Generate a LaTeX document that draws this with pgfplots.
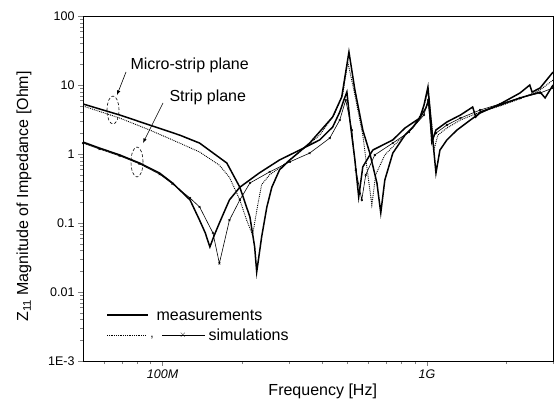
\documentclass[border=0pt]{standalone}
\usepackage{fontspec}
\setmainfont{Liberation Sans}
\usepackage{pgfplots}
\pgfplotsset{compat=1.18}
\begin{document}
\begin{tikzpicture}
\useasboundingbox (-83pt,-47pt) rectangle (473pt,361pt);
\begin{axis}[
  at={(0pt,0pt)}, anchor=south west,
  scale only axis, width=470pt, height=345pt,
  xmode=log, ymode=log,
  xmin=5e7, xmax=3e9, ymin=1e-3, ymax=100,
  axis line style={line width=1pt},
  tick align=outside, major tick length=5pt, minor tick length=3pt,
  xtick pos=bottom, ytick pos=left,
  xtick={1e8,1e9}, xticklabels={\itshape 100M, \itshape 1G},
  minor xtick={6e7,7e7,8e7,9e7,2e8,3e8,4e8,5e8,6e8,7e8,8e8,9e8,2e9,3e9},
  ytick={1e-3,1e-2,1e-1,1,10,100},
  yticklabels={1E-3,0.01,0.1,1,10,100},
  minor ytick={2e-3,3e-3,4e-3,5e-3,6e-3,7e-3,8e-3,9e-3,
    2e-2,3e-2,4e-2,5e-2,6e-2,7e-2,8e-2,9e-2,
    0.2,0.3,0.4,0.5,0.6,0.7,0.8,0.9,2,3,4,5,6,7,8,9,
    20,30,40,50,60,70,80,90},
  tick label style={font=\fontsize{12.5}{14}\selectfont},
  xlabel={Frequency [Hz]},
  ylabel={Z\textsubscript{11} Magnitude of Impedance [Ohm]},
  label style={font=\fontsize{16}{18}\selectfont},
  xlabel style={at={(rel axis cs:0.51,0)}, anchor=center, yshift=-30pt},
  ylabel style={at={([xshift=-59pt]rel axis cs:0,0.477)}, anchor=center},
]
% micro-strip plane, measurement
\addplot[black, line width=1.5pt] coordinates {
(5.0e7,5.31) (5.77e7,4.5) (6.88e7,3.68) (8.93e7,2.63) (1.16e8,1.88) (1.38e8,1.44)
(1.75e8,0.74) (1.96e8,0.33) (2.14e8,0.122) (2.23e8,0.045) (2.27e8,0.0195)
(2.37e8,0.063) (2.48e8,0.171) (2.59e8,0.33) (2.77e8,0.59) (3.03e8,0.82)
(3.60e8,1.44) (4.40e8,3.44) (4.76e8,6.70) (5.07e8,30.1) (5.34e8,8.47)
(5.72e8,2.23) (6.08e8,1.03) (6.47e8,0.38) (6.69e8,0.140) (6.93e8,0.42)
(7.43e8,1.03) (8.26e8,1.88) (8.85e8,2.46) (9.40e8,3.32) (9.75e8,5.13)
(1.009e9,9.35) (1.044e9,2.23) (1.082e9,0.53) (1.120e9,1.14) (1.19e9,1.60)
(1.30e9,2.23) (1.46e9,3.11) (1.59e9,3.93) (1.89e9,5.3) (2.25e9,7.66)
(2.45e9,10.0) (2.50e9,7.9) (2.68e9,9.05) (3.0e9,15.4)};
% strip plane, measurement
\addplot[black, line width=1.5pt] coordinates {
(5.0e7,1.49) (5.77e7,1.22) (6.88e7,0.97) (8.18e7,0.74) (9.74e7,0.53) (1.09e8,0.38)
(1.27e8,0.216) (1.38e8,0.110) (1.45e8,0.072) (1.51e8,0.045) (1.57e8,0.067)
(1.64e8,0.100) (1.79e8,0.216) (1.96e8,0.33) (2.32e8,0.53) (2.77e8,0.82)
(3.30e8,1.14) (3.93e8,1.60) (4.40e8,2.46) (4.68e8,4.06) (4.85e8,6.06)
(4.98e8,7.92) (5.11e8,3.11) (5.34e8,0.82) (5.52e8,0.238) (5.72e8,0.65)
(6.24e8,1.14) (7.43e8,1.60) (8.26e8,2.38) (9.40e8,3.32) (9.91e8,4.64)
(1.017e9,6.06) (1.044e9,1.49) (1.082e9,2.23) (1.19e9,2.91) (1.34e9,3.68)
(1.49e9,4.8) (1.53e9,3.44) (1.59e9,4.06) (1.89e9,5.13) (2.25e9,6.5)
(2.68e9,7.9) (2.80e9,6.5) (3.0e9,10.0)};
% micro-strip plane, simulation
\addplot[black, densely dotted, line width=0.9pt] coordinates {
(5.0e7,4.96) (6.88e7,3.32) (8.93e7,2.23) (1.16e8,1.44) (1.38e8,1.07) (1.64e8,0.69)
(1.79e8,0.46) (1.96e8,0.216) (2.08e8,0.110) (2.19e8,0.067) (2.29e8,0.182)
(2.37e8,0.36) (2.54e8,0.50) (2.77e8,0.63) (3.30e8,1.07) (3.93e8,1.88)
(4.45e8,3.68) (4.80e8,7.16) (5.02e8,21.5) (5.34e8,7.16) (5.72e8,1.88)
(5.98e8,0.50) (6.19e8,0.182) (6.40e8,0.50) (6.93e8,0.97) (8.0e8,1.70)
(8.85e8,2.38) (9.58e8,4.06) (1.009e9,7.92) (1.044e9,2.63) (1.063e9,1.14)
(1.10e9,1.88) (1.19e9,2.38) (1.34e9,3.11) (1.59e9,4.06) (1.89e9,4.96)
(2.25e9,6.3) (2.68e9,8.47) (3.0e9,11.8)};
% strip plane, simulation
\addplot[black, line width=0.6pt, mark=x, mark size=1.3pt] coordinates {
(5.0e7,1.44) (5.77e7,1.18) (6.88e7,0.94) (8.18e7,0.72) (9.74e7,0.51) (1.09e8,0.37)
(1.27e8,0.23) (1.38e8,0.171) (1.55e8,0.072) (1.64e8,0.026) (1.79e8,0.110)
(1.96e8,0.216) (2.14e8,0.38) (2.54e8,0.55) (3.03e8,0.77) (3.60e8,1.03)
(4.29e8,1.70) (4.68e8,3.11) (4.93e8,6.06) (5.20e8,2.23) (5.38e8,0.59)
(5.67e8,0.216) (5.87e8,0.50) (6.35e8,0.97) (7.43e8,1.44) (8.55e8,2.08)
(9.75e8,3.68) (1.009e9,6.06) (1.044e9,1.60) (1.082e9,2.01) (1.19e9,2.63)
(1.34e9,3.32) (1.59e9,4.34) (1.89e9,5.31) (2.25e9,6.5) (2.68e9,7.66) (3.0e9,9.05)};
\end{axis}
% annotations
\node[anchor=west, font=\fontsize{16}{18}\selectfont] at (44pt,296pt) {Micro-strip plane};
\draw[-latex, line width=0.6pt] (43pt,289pt) -- (34pt,266pt);
\draw[densely dashed, line width=0.6pt] (30pt,251pt) ellipse [x radius=6pt, y radius=14pt];
\node[anchor=west, font=\fontsize{16}{18}\selectfont] at (83pt,264pt) {Strip plane};
\draw[-latex, line width=0.6pt] (80pt,258pt) -- (60pt,218pt);
\draw[densely dashed, line width=0.6pt] (54pt,199pt) ellipse [x radius=6pt, y radius=15pt];
% legend
\draw[line width=1.2pt] (24pt,46pt) -- (65pt,46pt);
\node[anchor=west, font=\fontsize{16}{18}\selectfont] at (70pt,46pt) {measurements};
\draw[densely dotted, line width=0.8pt] (24pt,26pt) -- (63pt,26pt);
\node[font=\fontsize{12}{14}\selectfont] at (69pt,23pt) {,};
\draw[line width=0.8pt] (79pt,26pt) -- (122pt,26pt);
\node[font=\fontsize{9}{10}\selectfont, inner sep=0pt] at (100pt,26pt) {$\times$};
\node[anchor=west, font=\fontsize{16}{18}\selectfont] at (122pt,26pt) {simulations};
\end{tikzpicture}
\end{document}
